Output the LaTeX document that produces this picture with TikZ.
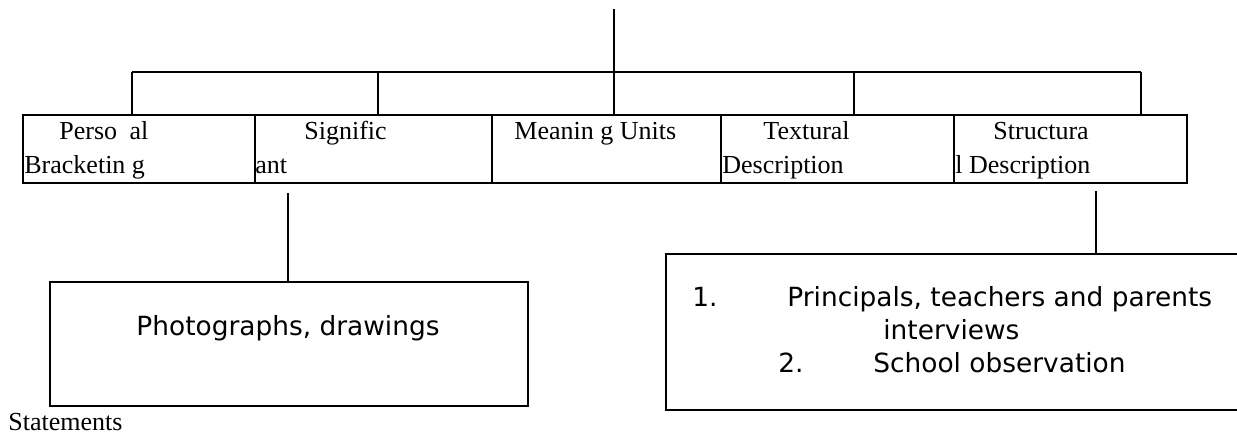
\documentclass[tikz,border=0pt]{standalone}
\usepackage{fontspec}
\setmainfont{Liberation Serif}
\newfontfamily\boxfont{DejaVu Sans}
\usepackage{tikz}
\usetikzlibrary{calc}

\tikzset{
  cell/.style={draw, line width=1.1pt, inner sep=0pt, anchor=north west, minimum height=34pt},
  box/.style={draw, line width=1.2pt, inner sep=0pt, anchor=north west},
  link/.style={line width=0.9pt},
  celltext/.style={anchor=base west, inner sep=0pt, font=\fontsize{13}{13}\selectfont},
  boxtext/.style={anchor=base west, inner sep=0pt, font=\boxfont\fontsize{13.2}{13.2}\selectfont}
}

\begin{document}
\begin{tikzpicture}[x=0.5pt, y=-0.5pt]
        \useasboundingbox (0,0) rectangle (1237,434);
        %TITIK
        \coordinate (root) at (614,9);
        \coordinate (hub) at (614,72);
        \coordinate (barL) at (132,72);
        \coordinate (barR) at (1141,72);
        \coordinate (d1) at (132,72);
        \coordinate (d2) at (378,72);
        \coordinate (d3) at (614,72);
        \coordinate (d4) at (854,72);
        \coordinate (d5) at (1141,72);
        %TABEL
        \node[cell, minimum width=116pt] (personal) at (22,114) {};
        \node[cell, minimum width=118.5pt] (significant) at (254,114) {};
        \node[cell, minimum width=114.5pt] (meaning) at (491,114) {};
        \node[cell, minimum width=116.5pt] (textural) at (720,114) {};
        \node[cell, minimum width=116.5pt] (structural) at (953,114) {};
        %TEKS TABEL
        \node[celltext] (personalA) at (59,139) {Perso\hspace{3pt} al};
        \node[celltext] (personalB) at (24,173) {Bracketin g};
        \node[celltext] (significantA) at (304,139) {Signific};
        \node[celltext] (significantB) at (255,173) {ant};
        \node[celltext] (meaningA) at (514,139) {Meanin g Units};
        \node[celltext] (texturalA) at (763,139) {Textural};
        \node[celltext] (texturalB) at (722,173) {Description};
        \node[celltext] (structuralA) at (993,139) {Structura};
        \node[celltext] (structuralB) at (955,173) {l Description};
        %GARIS ATAS
        \draw[link] (root) -- (hub);
        \draw[link] (barL) -- (barR);
        \draw[link] (d1) -- (d1 |- personal.north);
        \draw[link] (d2) -- (d2 |- significant.north);
        \draw[link] (d3) -- (d3 |- meaning.north);
        \draw[link] (d4) -- (d4 |- textural.north);
        \draw[link] (d5) -- (d5 |- structural.north);
        %KOTAK BAWAH
        \node[box, minimum width=239pt, minimum height=62pt] (photos) at (49,281) {};
        \node[box, minimum width=295pt, minimum height=78pt] (sources) at (665,253) {};
        \node[boxtext, anchor=base] (photostext) at (288,335) {Photographs, drawings};
        \node[boxtext] (numA) at (692,306) {1.};
        \node[boxtext] (sourceA) at (787,306) {Principals, teachers and parents};
        \node[boxtext] (sourceB) at (883,339) {interviews};
        \node[boxtext] (numB) at (778,372) {2.};
        \node[boxtext] (sourceC) at (873,372) {School observation};
        %GARIS BAWAH
        \coordinate (sigfoot) at (288,193);
        \coordinate (strfoot) at (1096,191);
        \draw[link] (sigfoot) -- (sigfoot |- photos.north);
        \draw[link] (strfoot) -- (strfoot |- sources.north);
        %CATATAN
        \node[celltext] (statements) at (8,430) {Statements};
    \end{tikzpicture}
\end{document}
